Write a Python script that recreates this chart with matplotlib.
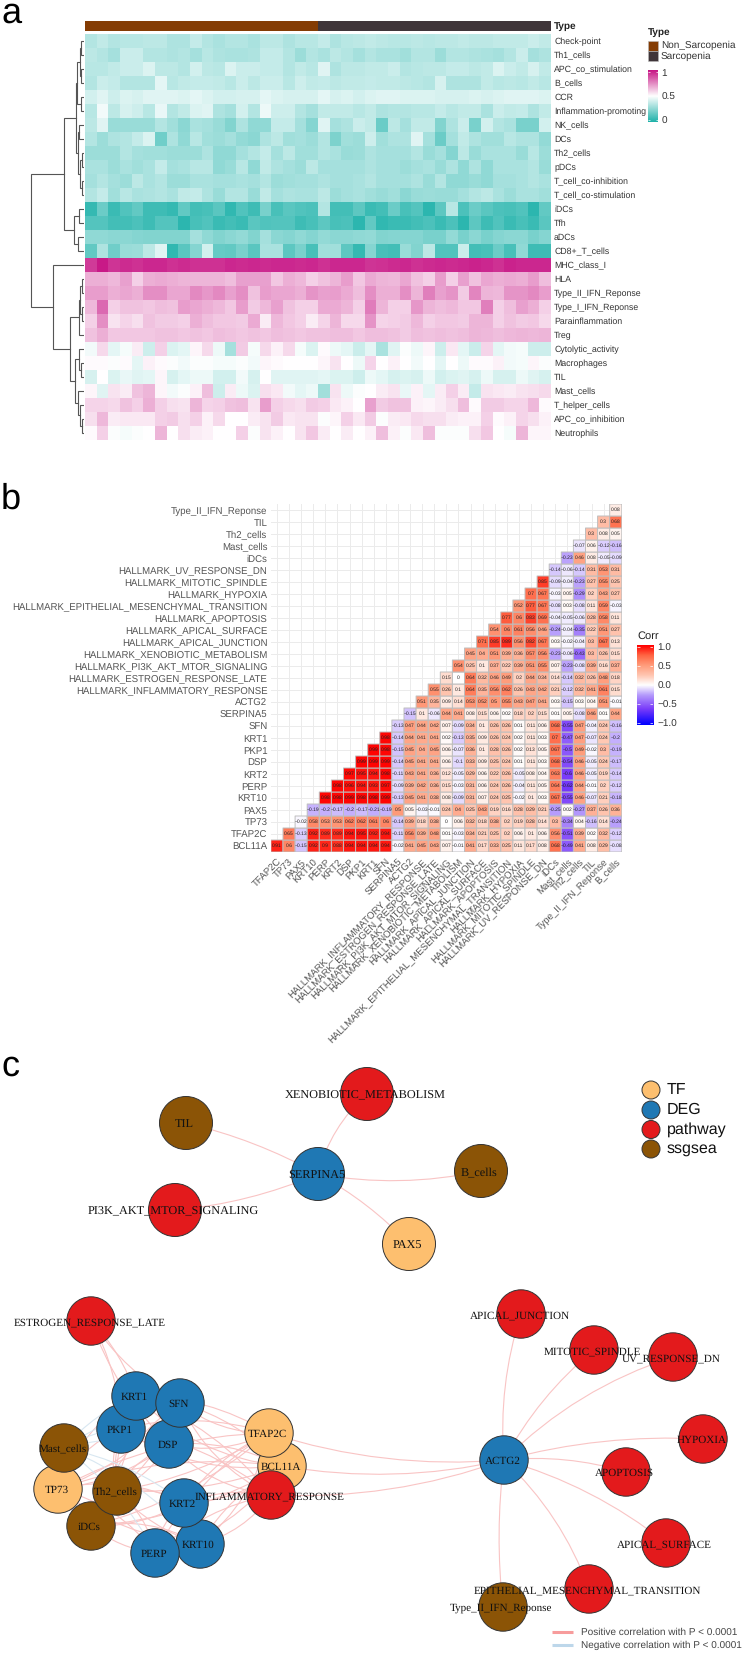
import numpy as np
import matplotlib
matplotlib.use('Agg')
import matplotlib.pyplot as plt
from matplotlib.colors import LinearSegmentedColormap
from matplotlib.patches import Circle, FancyArrowPatch

plt.rcParams['font.family'] = ['Liberation Sans', 'DejaVu Sans']
plt.rcParams['text.hinting'] = 'none'

# panel a
heat_rows = ['Check-point', 'Th1_cells', 'APC_co_stimulation', 'B_cells', 'CCR', 'Inflammation-promoting',
             'NK_cells', 'DCs', 'Th2_cells', 'pDCs', 'T_cell_co-inhibition', 'T_cell_co-stimulation',
             'iDCs', 'Tfh', 'aDCs', 'CD8+_T_cells', 'MHC_class_I', 'HLA', 'Type_II_IFN_Reponse',
             'Type_I_IFN_Reponse', 'Parainflammation', 'Treg', 'Cytolytic_activity', 'Macrophages',
             'TIL', 'Mast_cells', 'T_helper_cells', 'APC_co_inhibition', 'Neutrophils']
type_names = ['Non_Sarcopenia', 'Sarcopenia']
type_counts = [20, 20]
type_colors = ['#843C04', '#3F3539']

# score x 100, one row per signature, 40 samples
heat_values = [
    [33,36,33,34,34,35,35,32,32,37,33,31,33,33,31,35,35,32,34,34,37,32,34,35,36,35,34,34,35,34,35,35,36,35,35,36,36,36,38,36],
    [35,33,30,38,38,33,33,32,33,30,34,32,31,31,32,37,37,33,28,33,31,35,33,30,33,31,31,29,33,33,28,33,33,32,31,30,33,38,30,32],
    [34,34,36,38,38,42,35,35,33,40,35,34,42,38,38,37,37,33,36,34,43,32,35,35,36,36,38,33,34,35,35,37,37,35,36,42,38,36,41,36],
    [33,38,37,33,33,33,44,34,36,37,37,36,34,38,35,38,38,34,39,36,37,35,36,36,37,36,36,35,34,33,41,32,32,32,36,34,35,34,36,34],
    [40,43,39,42,41,43,43,43,42,44,42,40,40,41,41,44,42,41,41,41,44,41,42,40,42,43,43,42,42,42,41,41,41,42,41,42,43,43,43,42],
    [34,47,35,41,39,34,45,33,36,42,43,32,30,40,33,46,39,39,33,30,36,36,36,34,36,32,33,33,34,34,37,34,36,36,31,38,36,37,32,36],
    [35,43,27,27,27,27,33,29,24,31,30,27,22,32,25,25,37,37,30,23,43,30,32,38,36,17,35,30,36,36,22,32,38,20,40,33,31,20,20,40],
    [33,28,32,33,37,42,18,32,25,34,29,28,30,26,24,32,35,29,30,28,33,21,29,28,39,29,32,32,43,30,17,30,36,32,29,29,34,32,32,26],
    [28,28,28,33,30,29,29,28,28,28,32,25,25,30,33,37,30,35,29,29,33,31,27,28,32,30,30,30,33,27,30,23,35,27,31,31,31,27,34,28],
    [31,31,28,31,29,31,37,30,31,34,34,25,27,34,25,36,32,30,28,35,30,30,30,30,32,30,30,28,30,31,27,32,25,32,25,31,31,31,33,27],
    [30,33,30,28,35,31,33,28,28,31,31,30,30,31,30,33,28,29,30,30,32,30,30,31,33,30,30,30,32,27,33,25,25,27,25,30,30,31,33,31],
    [33,37,29,34,31,32,33,31,36,37,32,27,33,33,27,36,30,32,31,31,35,28,30,31,29,27,29,24,27,28,27,27,30,33,35,31,28,31,31,29],
    [5,17,6,11,15,7,7,5,15,8,9,13,4,11,7,20,9,13,11,10,33,8,8,14,6,8,17,9,12,3,14,34,10,17,13,10,9,11,3,15],
    [12,12,8,8,10,7,12,12,3,9,11,6,8,6,13,11,12,12,7,9,14,9,10,3,15,4,6,6,8,10,6,10,3,14,7,11,6,9,6,13],
    [25,25,24,24,23,22,22,22,22,30,25,22,24,26,22,30,24,23,25,23,26,24,24,25,26,22,23,23,23,20,20,26,20,24,20,23,24,24,20,23],
    [15,32,18,27,28,35,43,4,13,23,40,16,15,20,13,31,31,14,20,9,29,29,14,5,23,9,8,27,22,35,11,11,38,8,9,17,9,25,7,7],
    [92,99,93,95,94,96,96,94,95,94,94,94,96,95,96,95,96,96,95,96,94,96,96,96,93,94,95,96,94,95,96,95,96,97,96,94,97,96,96,96],
    [67,67,65,70,60,67,68,67,66,66,66,66,64,70,70,70,62,67,65,60,63,66,71,62,68,66,65,69,63,60,71,60,70,63,69,67,68,67,71,64],
    [71,71,67,69,67,74,74,69,69,75,72,75,70,74,63,71,69,69,67,73,70,71,68,64,74,67,67,74,66,77,70,73,61,76,66,65,73,73,75,71],
    [65,82,60,63,63,62,64,63,71,69,67,65,62,71,61,65,70,63,60,60,68,68,66,60,78,66,60,60,72,66,64,65,62,62,77,60,64,70,67,60],
    [60,74,56,59,57,63,61,61,60,67,64,62,62,61,68,54,65,62,60,54,59,66,58,58,73,59,60,61,65,60,62,62,61,66,66,60,63,61,62,58],
    [63,67,62,62,62,62,63,63,62,63,62,64,63,62,63,62,64,63,62,63,63,64,64,62,64,64,63,61,64,63,64,63,64,66,65,64,65,66,65,66],
    [47,58,44,48,54,39,60,42,44,52,58,46,30,61,48,58,53,58,48,42,51,46,44,38,44,31,43,49,46,52,39,55,44,38,59,44,47,48,39,39],
    [51,51,49,51,44,53,51,49,47,49,49,48,48,49,47,52,51,50,50,50,52,56,50,46,59,50,53,50,47,50,44,50,46,51,51,53,47,48,52,49],
    [41,50,42,45,43,44,52,41,44,46,46,40,40,47,41,50,43,43,43,43,44,42,42,39,46,44,41,42,41,46,40,42,43,41,46,41,41,46,43,41],
    [52,43,56,54,63,66,52,47,49,53,64,39,54,46,42,57,55,47,44,46,29,56,46,49,50,54,56,45,53,44,54,60,54,37,56,55,54,56,57,58],
    [59,59,58,63,60,67,60,57,56,66,59,60,63,64,56,71,60,58,57,61,60,55,53,50,70,61,63,63,53,52,54,57,64,51,61,61,59,59,65,51],
    [57,65,54,55,55,55,60,61,57,60,53,58,50,50,54,56,61,55,56,56,49,52,60,55,61,49,54,55,58,57,57,54,53,53,60,51,53,59,57,53],
    [51,60,49,48,49,50,66,50,57,54,53,50,50,60,49,56,53,50,56,62,54,50,54,50,53,64,53,49,55,64,49,49,49,57,62,50,48,66,52,52],
]
# merges as (height, left, right), leaves are row numbers
tree_a = (7.5, (6.5, (4, (2.5, 0, 1), (3, 2, 3)), (2.5, 4, 5)),
          (6, (4.5, 6, 7), (3.5, (1.5, 8, 9), (1.5, 10, 11))))
tree_b = (9.5, (5, 12, 13), (6, 14, 15))
tree_c = (4.5, (4, (2, 17, 18), (2, 19, 20)), 21)
tree_d = (9, (5, 22, (2.5, 23, 24)), (6, 25, (3.5, 26, (2, 27, 28))))
row_tree = (52.5, (19.5, tree_a, tree_b), (31, 16, (13.5, tree_c, tree_d)))

# panel b
corr_cols = ['TFAP2C', 'TP73', 'PAX5', 'KRT10', 'PERP', 'KRT2', 'DSP', 'PKP1', 'KRT1', 'SFN', 'SERPINA5', 'ACTG2',
             'HALLMARK_INFLAMMATORY_RESPONSE', 'HALLMARK_ESTROGEN_RESPONSE_LATE', 'HALLMARK_PI3K_AKT_MTOR_SIGNALING',
             'HALLMARK_XENOBIOTIC_METABOLISM', 'HALLMARK_APICAL_JUNCTION', 'HALLMARK_APICAL_SURFACE',
             'HALLMARK_APOPTOSIS', 'HALLMARK_EPITHELIAL_MESENCHYMAL_TRANSITION', 'HALLMARK_HYPOXIA',
             'HALLMARK_MITOTIC_SPINDLE', 'HALLMARK_UV_RESPONSE_DN', 'iDCs', 'Mast_cells', 'Th2_cells', 'TIL',
             'Type_II_IFN_Reponse', 'B_cells']
corr_rows = ['BCL11A'] + corr_cols[:-1]
# row n starts at column n
corr_values = [
    [0.91,0.6,-0.15,0.92,0.9,0.88,0.94,0.94,0.94,0.94,-0.02,0.41,0.45,0.43,0.07,-0.01,0.41,0.17,0.33,0.25,0.11,0.17,0.08,0.68,-0.49,0.41,0.08,0.29,-0.08],
    [0.65,-0.13,0.92,0.89,0.89,0.94,0.95,0.92,0.94,-0.11,0.56,0.39,0.48,0.01,-0.03,0.34,0.21,0.25,0.2,0.06,0.1,0.06,0.56,-0.51,0.39,0.02,0.32,-0.12],
    [-0.02,0.58,0.53,0.53,0.62,0.62,0.61,0.6,-0.14,0.39,0.18,0.38,0,0.06,0.32,0.18,0.38,0.2,0.19,0.28,0.14,0.3,-0.34,0.04,-0.16,0.14,-0.24],
    [-0.19,-0.2,-0.17,-0.2,-0.17,-0.21,-0.19,0.5,0.05,-0.03,-0.01,0.24,0.4,0.25,0.43,0.19,0.16,0.28,0.29,0.21,-0.25,0.02,-0.27,0.37,0.26,0.36],
    [0.98,0.98,0.99,0.98,0.98,0.99,-0.13,0.45,0.41,0.38,0.08,-0.09,0.31,0.07,0.24,0.25,-0.02,0.1,0.03,0.67,-0.55,0.46,-0.07,0.21,-0.18],
    [0.98,0.96,0.94,0.93,0.97,-0.09,0.39,0.42,0.36,0.15,-0.03,0.31,0.06,0.24,0.26,-0.04,0.11,0.05,0.64,-0.62,0.44,-0.01,0.2,-0.12],
    [0.97,0.95,0.94,0.98,-0.11,0.43,0.41,0.36,0.12,-0.05,0.29,0.06,0.22,0.26,-0.05,0.08,0.04,0.63,-0.6,0.46,-0.05,0.19,-0.14],
    [0.99,0.99,0.99,-0.14,0.45,0.41,0.41,0.06,-0.1,0.33,0.09,0.25,0.24,0.01,0.11,0.03,0.68,-0.54,0.46,-0.05,0.24,-0.17],
    [0.99,0.98,-0.15,0.45,0.4,0.45,0.06,-0.07,0.36,0.1,0.28,0.26,0.02,0.13,0.05,0.67,-0.5,0.49,-0.02,0.3,-0.19],
    [0.98,-0.14,0.44,0.41,0.41,0.02,-0.13,0.35,0.09,0.26,0.24,0.02,0.11,0.03,0.7,-0.47,0.47,-0.07,0.24,-0.2],
    [-0.13,0.47,0.44,0.42,0.07,-0.09,0.34,0.1,0.26,0.26,0.01,0.11,0.06,0.68,-0.55,0.47,-0.04,0.24,-0.16],
    [-0.15,0.1,-0.06,0.44,0.41,0.08,0.15,0.06,0.02,0.18,0.2,0.15,0.01,0.05,-0.08,0.46,0.01,0.44],
    [0.51,0.35,0.09,0.14,0.53,0.52,0.5,0.55,0.43,0.47,0.41,0.03,-0.15,0.03,0.04,0.51,-0.01],
    [0.55,0.26,0.1,0.64,0.35,0.56,0.62,0.26,0.43,0.42,0.21,-0.12,0.32,0.41,0.61,0.15],
    [0.15,0,0.64,0.32,0.46,0.49,0.2,0.44,0.34,0.14,-0.14,0.32,0.26,0.48,0.18],
    [0.54,0.25,0.1,0.37,0.22,0.39,0.51,0.55,0.07,-0.23,-0.08,0.39,0.16,0.37],
    [0.45,0.4,0.51,0.39,0.36,0.57,0.56,-0.23,-0.06,-0.43,0.3,0.26,0.15],
    [0.71,0.85,0.89,0.56,0.82,0.67,0.03,-0.02,-0.04,0.3,0.67,0.13],
    [0.54,0.6,0.61,0.56,0.46,-0.24,-0.04,-0.35,0.22,0.51,0.27],
    [0.77,0.6,0.83,0.69,-0.04,-0.05,-0.06,0.28,0.58,0.11],
    [0.52,0.77,0.67,-0.08,0.03,-0.08,0.11,0.59,-0.03],
    [0.7,0.67,-0.03,0.05,-0.29,0.2,0.43,0.27],
    [0.85,-0.09,-0.04,-0.23,0.27,0.55,0.25],
    [-0.14,-0.06,-0.14,0.31,0.53,0.31],
    [-0.23,0.46,0.08,-0.05,-0.09],
    [-0.07,0.06,-0.12,-0.16],
    [0.3,0.08,0.05],
    [0.3,0.68],
    [0.08],
]

# panel c, node centres
node_names = ['ESTROGEN_RESPONSE_LATE', 'DSP', 'PKP1', 'KRT1', 'SFN', 'BCL11A', 'TFAP2C', 'INFLAMMATORY_RESPONSE',
              'TP73', 'Mast_cells', 'iDCs', 'Th2_cells', 'KRT10', 'KRT2', 'PERP', 'XENOBIOTIC_METABOLISM', 'TIL',
              'SERPINA5', 'B_cells', 'PI3K_AKT_MTOR_SIGNALING', 'PAX5', 'ACTG2', 'APICAL_JUNCTION', 'MITOTIC_SPINDLE',
              'UV_RESPONSE_DN', 'HYPOXIA', 'APOPTOSIS', 'APICAL_SURFACE', 'EPITHELIAL_MESENCHYMAL_TRANSITION',
              'Type_II_IFN_Reponse']
node_x = [91, 169, 121, 136, 180, 282, 269, 271, 58, 64, 91, 117, 200, 184, 155, 367, 186, 318, 481, 175, 409, 504,
          521, 594, 673, 703, 626, 666, 589, 503]
node_y = [1321, 1444, 1429, 1396, 1403, 1466, 1433, 1495, 1489, 1448, 1526, 1491, 1544, 1503, 1553, 1094, 1123, 1174,
          1171, 1210, 1244, 1460, 1314, 1350, 1357, 1439, 1472, 1543, 1589, 1607]
node_groups = ['pathway', 'DEG', 'DEG', 'DEG', 'DEG', 'TF', 'TF', 'pathway', 'TF', 'ssgsea', 'ssgsea', 'ssgsea',
               'DEG', 'DEG', 'DEG', 'pathway', 'ssgsea', 'DEG', 'ssgsea', 'pathway', 'TF', 'DEG', 'pathway',
               'pathway', 'pathway', 'pathway', 'pathway', 'pathway', 'pathway', 'ssgsea']
top_cluster = ['XENOBIOTIC_METABOLISM', 'TIL', 'SERPINA5', 'B_cells', 'PI3K_AKT_MTOR_SIGNALING', 'PAX5']
group_names = ['TF', 'DEG', 'pathway', 'ssgsea']
group_colors = ['#FDBF6F', '#1F78B4', '#E31A1C', '#8B5406']
# (from, to, curvature)
single_edges = [('SERPINA5', 'XENOBIOTIC_METABOLISM', -0.15), ('SERPINA5', 'TIL', 0.07),
                ('SERPINA5', 'PI3K_AKT_MTOR_SIGNALING', -0.08), ('SERPINA5', 'B_cells', 0.1), ('SERPINA5', 'PAX5', -0.08),
                ('ACTG2', 'APICAL_JUNCTION', -0.1), ('ACTG2', 'MITOTIC_SPINDLE', -0.1), ('ACTG2', 'UV_RESPONSE_DN', -0.12),
                ('ACTG2', 'HYPOXIA', -0.08), ('ACTG2', 'APOPTOSIS', -0.1), ('ACTG2', 'APICAL_SURFACE', -0.1),
                ('ACTG2', 'EPITHELIAL_MESENCHYMAL_TRANSITION', -0.12), ('ACTG2', 'Type_II_IFN_Reponse', 0.06),
                ('ACTG2', 'TFAP2C', -0.1), ('ACTG2', 'BCL11A', -0.1), ('ACTG2', 'INFLAMMATORY_RESPONSE', -0.1),
                ('BCL11A', 'TFAP2C', 0.1), ('BCL11A', 'TP73', 0.12), ('TFAP2C', 'TP73', 0.12), ('TFAP2C', 'Th2_cells', -0.1),
                ('BCL11A', 'Th2_cells', -0.1), ('BCL11A', 'iDCs', -0.12), ('TFAP2C', 'iDCs', -0.12), ('TP73', 'iDCs', 0.15),
                ('INFLAMMATORY_RESPONSE', 'TFAP2C', 0.15), ('INFLAMMATORY_RESPONSE', 'BCL11A', 0.15),
                ('KRT2', 'KRT10', 0.2), ('KRT2', 'PERP', 0.2), ('KRT1', 'SFN', 0.2), ('PKP1', 'DSP', 0.2)]
deg_hub = ['KRT1', 'SFN', 'PKP1', 'DSP', 'KRT2', 'KRT10', 'PERP']
estrogen_hub = ['KRT1', 'SFN', 'PKP1', 'DSP']
pos_partners = ['TFAP2C', 'BCL11A', 'INFLAMMATORY_RESPONSE', 'TP73', 'iDCs', 'Th2_cells']
neg_partners = ['Mast_cells']

pos_color = '#F9C4C4'
neg_color = '#D8E7F1'
W, H = 743, 1653

fig = plt.figure(figsize=(W / 100, H / 100), dpi=100)


def axes_px(x0, y0, x1, y1):
    # rectangle in picture pixels, y going down
    return fig.add_axes([x0 / W, 1 - y1 / H, (x1 - x0) / W, (y1 - y0) / H])


def draw_tree(ax, node):
    if not isinstance(node, tuple):
        return node + 0.5, 0
    h, left, right = node
    y1, h1 = draw_tree(ax, left)
    y2, h2 = draw_tree(ax, right)
    ax.plot([h1, h, h, h2], [y1, y1, y2, y2], color='#555555', lw=0.8, solid_joinstyle='miter')
    return (y1 + y2) / 2, h


# ---- panel a ----
heat_cmap = LinearSegmentedColormap.from_list('heat', ['#20B2AA', '#FFFFFF', '#C71585'])
ax = axes_px(85, 33.5, 551, 440)
ax.pcolormesh(np.array(heat_values) / 100, cmap=heat_cmap, vmin=0, vmax=1)
ax.set_ylim(len(heat_rows), 0)
ax.yaxis.tick_right()
ax.set_yticks(np.arange(len(heat_rows)) + 0.5, heat_rows, fontsize=6.35, color='#333333')
ax.tick_params(axis='y', length=0, pad=2.2)
ax.set_xticks([])
for s in ax.spines.values():
    s.set_visible(False)

ax = axes_px(85, 21, 551, 31)
left = 0
for n, c in zip(type_counts, type_colors):
    ax.barh(0, n, left=left, height=1, color=c)
    left += n
ax.set_xlim(0, sum(type_counts))
ax.set_ylim(-0.5, 0.5)
ax.axis('off')

ax = axes_px(20, 33.5, 83.5, 440)
draw_tree(ax, row_tree)
ax.set_xlim(63.5, 0)
ax.set_ylim(len(heat_rows), 0)
ax.axis('off')

ax = axes_px(648, 70, 658, 122)
ax.imshow(np.linspace(1, 0, 101)[:, None], cmap=heat_cmap, aspect='auto', extent=[0, 1, 0, 1], vmin=0, vmax=1)
ax.yaxis.tick_right()
ax.set_yticks([0.04, 0.5, 0.96], ['0', '0.5', '1'], fontsize=7.2, color='#333333')
ax.tick_params(axis='y', length=0, pad=2.5)
ax.hlines([0.04, 0.5, 0.96], 0, 0.2, color='white', lw=0.5)
ax.hlines([0.04, 0.5, 0.96], 0.8, 1, color='white', lw=0.5)
ax.set_xticks([])
for s in ax.spines.values():
    s.set_visible(False)

# ---- panel b ----
corr_cmap = LinearSegmentedColormap.from_list(
    'corr', [(0, '#0000FF'), (0.2, '#7A3CFA'), (0.375, '#B59BFC'), (0.5, '#FFFFFF'),
             (0.625, '#FFC5B0'), (0.75, '#FF9B7A'), (0.875, '#FF6543'), (1, '#FF0000')])
n_rows, n_cols = len(corr_rows), len(corr_cols)
corr_grid = np.full((n_rows, n_cols), np.nan)
for i, vals in enumerate(corr_values):
    corr_grid[i, i:i + len(vals)] = vals

ax = axes_px(270.9, 504, 621.8, 852)
ax.pcolor(np.ma.masked_invalid(corr_grid), cmap=corr_cmap, vmin=-1, vmax=1, edgecolors='#BEBEBE', linewidth=0.7,
          zorder=2)
ax.set_xlim(0, n_cols)
ax.set_ylim(0, n_rows)
ax.set_xticks(np.arange(n_cols) + 0.5)
ax.set_yticks(np.arange(n_rows) + 0.5)
ax.set_xticklabels(corr_cols, rotation=45, ha='right', va='top', rotation_mode='anchor', fontsize=6.9, color='#555555')
ax.set_yticklabels(corr_rows, fontsize=6.9, color='#555555')
ax.tick_params(axis='x', length=0, pad=4)
ax.tick_params(axis='y', length=0, pad=2.5)
ax.grid(color='#EBEBEB', lw=0.7, zorder=0)
ax.set_axisbelow(True)
for s in ax.spines.values():
    s.set_visible(False)
for i, vals in enumerate(corr_values):
    for k, v in enumerate(vals):
        ax.text(i + k + 0.5, i + 0.5, format(v, 'g').replace('-', '\u2212'), fontsize=3.6, ha='center', va='center',
                color='#222222', zorder=3)

ax = axes_px(637, 645, 653, 725)
ax.imshow(np.linspace(1, -1, 201)[:, None], cmap=corr_cmap, aspect='auto', extent=[0, 1, -1.05, 1.05], vmin=-1, vmax=1)
ax.yaxis.tick_right()
ticks = [-1, -0.5, 0, 0.5, 1]
ax.set_yticks(ticks, [format(t, '.1f').replace('-', '\u2212') for t in ticks], fontsize=7.2, color='#333333')
ax.tick_params(axis='y', length=0, pad=3)
ax.hlines(ticks, 0, 0.2, color='white', lw=0.5)
ax.hlines(ticks, 0.8, 1, color='white', lw=0.5)
ax.set_xticks([])
for s in ax.spines.values():
    s.set_visible(False)

# ---- panel c and loose text, whole page in pixels ----
ax = axes_px(0, 0, W, H)
ax.set_xlim(0, W)
ax.set_ylim(H, 0)
ax.axis('off')
ax.patch.set_alpha(0)

pos = {n: (x, y) for n, x, y in zip(node_names, node_x, node_y)}
edges = list(single_edges)
for a, hub in enumerate(deg_hub):
    for b, p in enumerate(pos_partners):
        edges.append((hub, p, 0.18 if (a + b) % 2 else -0.14))
    for p in neg_partners:
        edges.append((hub, p, 0.12))
for a, hub in enumerate(estrogen_hub):
    edges.append(('ESTROGEN_RESPONSE_LATE', hub, 0.12 if a % 2 else -0.12))
for e in edges:
    color = neg_color if e[1] in neg_partners else pos_color
    ax.add_patch(FancyArrowPatch(pos[e[0]], pos[e[1]], arrowstyle='-', connectionstyle=f'arc3,rad={e[2]}',
                                 color=color, lw=0.8, shrinkA=0, shrinkB=0, zorder=1))

for i, (n, x, y, g) in enumerate(zip(node_names, node_x, node_y, node_groups)):
    big = n in top_cluster
    ax.add_patch(Circle((x, y), 26.5 if big else 24.2, facecolor=group_colors[group_names.index(g)],
                        edgecolor='#333333', lw=0.7, zorder=2 + i * 0.01))
for n, x, y in zip(node_names, node_x, node_y):
    ax.text(x - 1.5, y + 1.5, n, family='Liberation Serif', fontsize=8.8 if n in top_cluster else 8.0, ha='center',
            va='center', color='#111111', zorder=3)

for name, color, y in zip(group_names, group_colors, [1090, 1110, 1129.5, 1149]):
    ax.add_patch(Circle((651, y), 9, facecolor=color, edgecolor='#333333', lw=0.7, zorder=2))
    ax.text(667, y, name, fontsize=11.5, ha='left', va='center', color='#111111')

ax.plot([552, 573], [1632, 1632], color='#F79C9C', lw=2.2, solid_capstyle='butt')
ax.plot([552, 573], [1645, 1645], color='#BDD7EA', lw=2.2, solid_capstyle='butt')
ax.text(581, 1632, 'Positive correlation with P < 0.0001', fontsize=7.2, va='center', color='#444444')
ax.text(581, 1645, 'Negative correlation with P < 0.0001', fontsize=7.2, va='center', color='#444444')

# legends and headers
ax.text(554, 26, 'Type', fontsize=7.2, fontweight='bold', va='center', color='#222222')
ax.text(648, 32, 'Type', fontsize=7.2, fontweight='bold', va='center', color='#222222')
for name, color, y in zip(type_names, type_colors, [40.7, 51]):
    ax.bar(653, 10, width=10, bottom=y, color=color, edgecolor='#BBBBBB', lw=0.4)
    ax.text(661, y + 5, name, fontsize=7.2, va='center', color='#333333')
ax.text(637, 636, 'Corr', fontsize=8, va='center', color='#222222')

for letter, x, y in [('a', 1, 23), ('b', 1, 509), ('c', 1, 1076)]:
    ax.text(x, y, letter, fontsize=26, ha='left', va='baseline', color='black')

fig.savefig('out.png', dpi=100)
